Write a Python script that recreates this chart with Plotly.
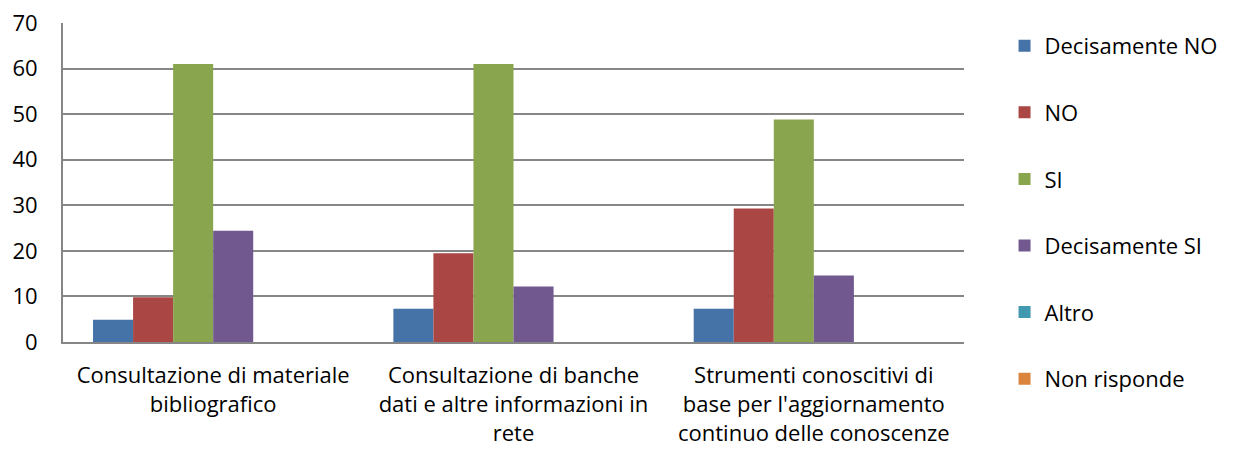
import plotly.graph_objects as go

categories = [
    "Consultazione di materiale<br>bibliografico",
    "Consultazione di banche<br>dati e altre informazioni in<br>rete",
    "Strumenti conoscitivi di<br>base per l'aggiornamento<br>continuo delle conoscenze",
]
series_names = ["Decisamente NO", "NO", "SI", "Decisamente SI", "Altro", "Non risponde"]
decisamente_no = [4.9, 7.3, 7.3]
no = [9.8, 19.5, 29.3]
si = [61.0, 61.0, 48.8]
decisamente_si = [24.4, 12.2, 14.6]
altro = [0, 0, 0]
non_risponde = [0, 0, 0]
series_values = [decisamente_no, no, si, decisamente_si, altro, non_risponde]
colors = ["#4572A7", "#AA4643", "#89A54E", "#71588F", "#4198AF", "#DB843D"]

fig = go.Figure()
for i, name in enumerate(series_names):
    fig.add_trace(go.Bar(
        x=categories,
        y=series_values[i],
        name=name,
        marker_color=colors[i],
        marker_line_width=0,
        legendgroup=name,
    ))

# the page body adds an 8px offset, so the figure is 8px smaller
fig.update_layout(
    width=1228, height=448,
    margin=dict(l=55, r=272, t=15, b=114, autoexpand=False),
    barmode="group",
    bargap=0.2,
    bargroupgap=0,
    plot_bgcolor="white",
    paper_bgcolor="white",
    font=dict(family="Open Sans, sans-serif", size=22, color="#000000"),
    legend=dict(
        x=1.045, xanchor="left",
        y=0.994, yanchor="top",
        tracegroupgap=35,
        maxheight=440,
        font=dict(size=22),
        bgcolor="rgba(0,0,0,0)",
    ),
    showlegend=True,
)
fig.update_xaxes(
    showline=True, linecolor="#868686", linewidth=2,
    ticks="", tickfont=dict(size=22), automargin=False,
    ticklabelstandoff=13, ticklabeloverflow="allow",
)
fig.update_yaxes(
    range=[0, 70], dtick=10,
    showgrid=True, gridcolor="#868686", gridwidth=1.5,
    showline=True, linecolor="#868686", linewidth=2,
    zeroline=False, ticks="", ticklabelstandoff=19,
    tickfont=dict(size=22), automargin=False,
    ticklabeloverflow="allow",
)

fig.write_html("out.html")
